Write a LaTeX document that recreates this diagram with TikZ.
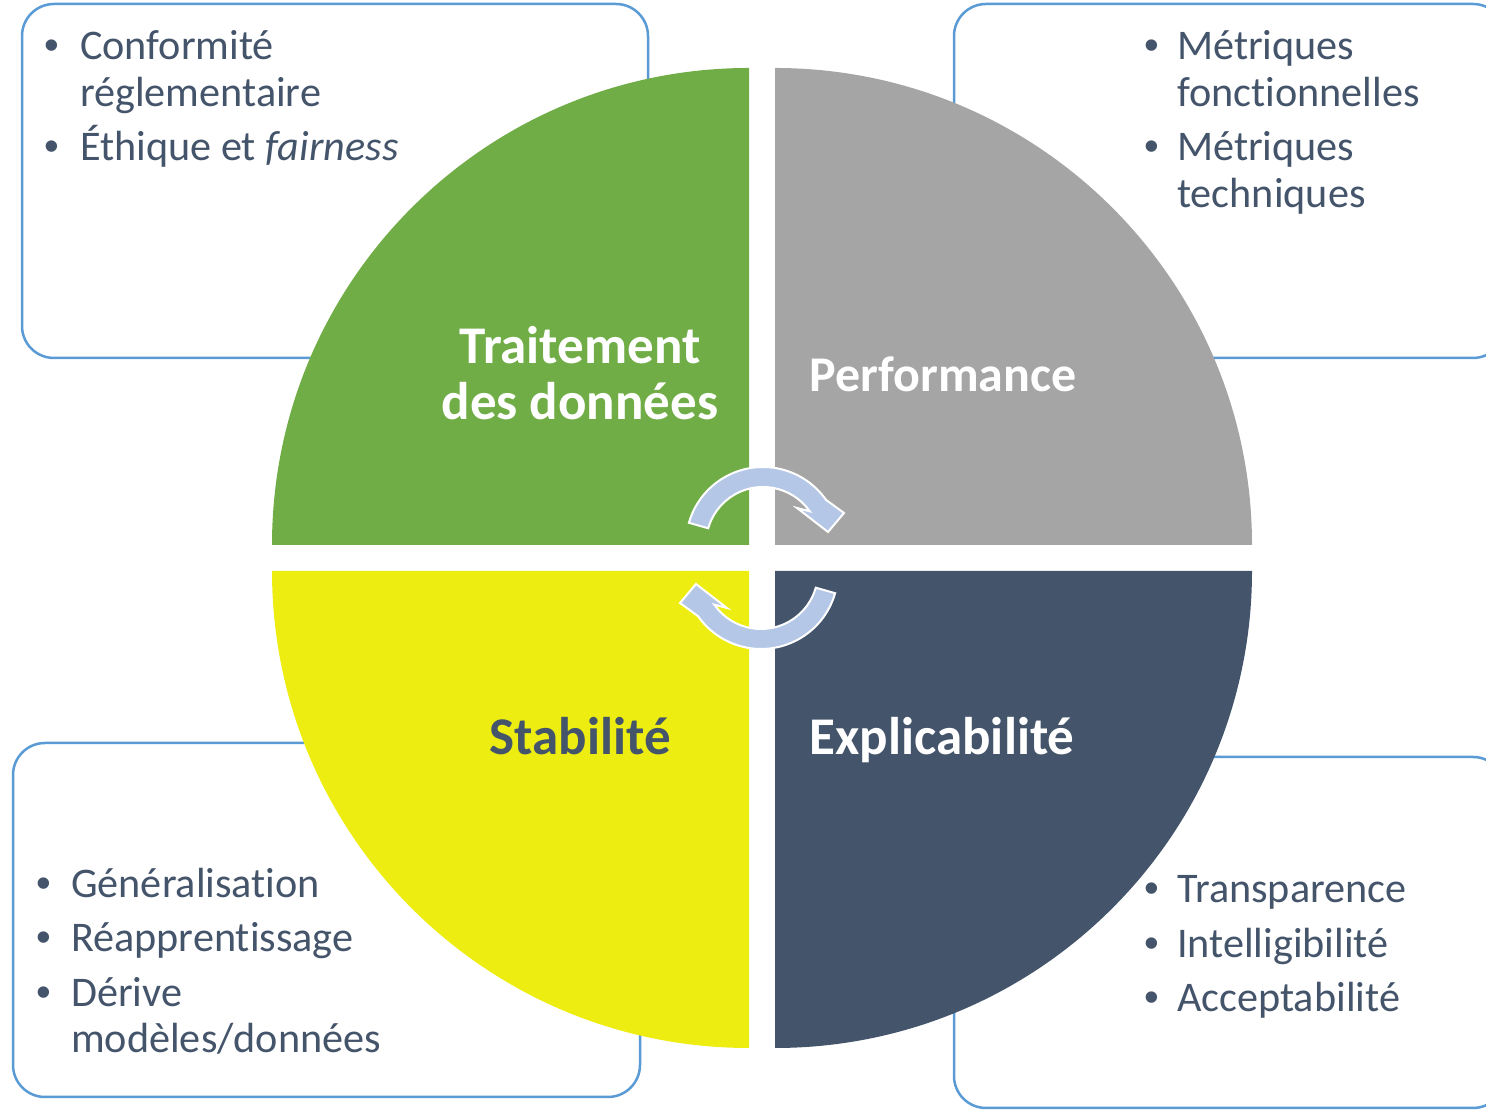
\documentclass[tikz,border=0pt]{standalone}
\usepackage{fontspec}
\setmainfont{Carlito}[Ligatures=NoCommon]
\newfontfamily\bulletfont{Liberation Sans}
\definecolor{qgreen}{HTML}{70AD47}
\definecolor{qgray}{HTML}{A5A5A5}
\definecolor{qyellow}{HTML}{EDED12}
\definecolor{qdark}{HTML}{44546A}
\definecolor{txtcol}{HTML}{44546A}
\definecolor{boxline}{HTML}{5B9BD5}
\definecolor{arrowfill}{HTML}{B4C7E7}
\begin{document}
\begin{tikzpicture}[x=1pt,y=1pt,
  bodytext/.style={anchor=base west, inner sep=0pt, text=txtcol, font=\fontsize{42.2}{47}\selectfont},
  bul/.style={anchor=base, inner sep=0pt, text=txtcol, font=\bulletfont\fontsize{42}{46}\selectfont},
  heading/.style={anchor=base, inner sep=0pt, font=\bfseries\fontsize{53}{57}\selectfont},
  infobox/.style={draw=boxline, line width=2.5pt, rounded corners=32pt, fill=white},
  arrowshape/.style={fill=arrowfill, draw=white, line width=2pt, line join=miter}]
\useasboundingbox (0,0) rectangle (1486,1110);
\clip (0,0) rectangle (1486,1110);
% boxes
\draw[infobox] (22,752) rectangle (648,1106);
\draw[infobox] (954,752) rectangle (1505,1106);
\draw[infobox] (13,13) rectangle (640,367);
\draw[infobox] (954,2) rectangle (1505,353);
% quadrants
\fill[qgreen] (749,565) -- (272,565) arc[start angle=180,end angle=90,radius=477] -- cycle;
\fill[qgray] (775,565) -- (775,1042) arc[start angle=90,end angle=0,radius=477] -- cycle;
\fill[qyellow] (749,539) -- (749,62) arc[start angle=270,end angle=180,radius=477] -- cycle;
\fill[qdark] (775,539) -- (1252,539) arc[start angle=0,end angle=-90,radius=477] -- cycle;
% cycle arrows
\newcommand\cyclearrow{%
 \path[arrowshape] (688.9,587.2) arc[start angle=164,end angle=35,radius=77]
   -- (844,597) -- (828,578) -- (797,602) -- (809.7,598.7)
   arc[start angle=35,end angle=164,radius=57] -- cycle;}
\cyclearrow
\begin{scope}[rotate around={180:(762,552)}]
\cyclearrow
\end{scope}
% headings
\node[heading, text=white] (h1a) at (580,746) {Traitement};
\node[heading, text=white] (h1b) at (580,690) {des données};
\node[heading, text=white, font=\bfseries\fontsize{50}{57}\selectfont] (h2) at (943,718) {Performance};
\node[heading, text=txtcol] (h3) at (580,355) {Stabilité};
\node[heading, text=white] (h4) at (942,355) {Explicabilité};
% top-left list
\node[bul] (tlb1) at (52,1050) {•};
\node[bodytext] (tl1) at (80,1050) {Conformité};
\node[bodytext] (tl2) at (80,1003) {réglementaire};
\node[bul] (tlb2) at (52,949) {•};
\node[bodytext] (tl3) at (80,949) {Éthique et \textit{fairness}};
% top-right list
\node[bul] (trb1) at (1152,1050) {•};
\node[bodytext] (tr1) at (1177,1050) {Métriques};
\node[bodytext] (tr2) at (1177,1003) {fonctionnelles};
\node[bul] (trb2) at (1152,949) {•};
\node[bodytext] (tr3) at (1177,949) {Métriques};
\node[bodytext] (tr4) at (1177,902) {techniques};
% bottom-left list
\node[bul] (blb1) at (44,212) {•};
\node[bodytext] (bl1) at (71,212) {Généralisation};
\node[bul] (blb2) at (44,158) {•};
\node[bodytext] (bl2) at (71,158) {Réapprentissage};
\node[bul] (blb3) at (44,103) {•};
\node[bodytext] (bl3) at (71,103) {Dérive};
\node[bodytext] (bl4) at (71,57) {modèles/données};
% bottom-right list
\node[bul] (brb1) at (1152,207) {•};
\node[bodytext] (br1) at (1177,207) {Transparence};
\node[bul] (brb2) at (1152,152) {•};
\node[bodytext] (br2) at (1177,152) {Intelligibilité};
\node[bul] (brb3) at (1152,98) {•};
\node[bodytext] (br3) at (1177,98) {Acceptabilité};
\end{tikzpicture}
\end{document}
